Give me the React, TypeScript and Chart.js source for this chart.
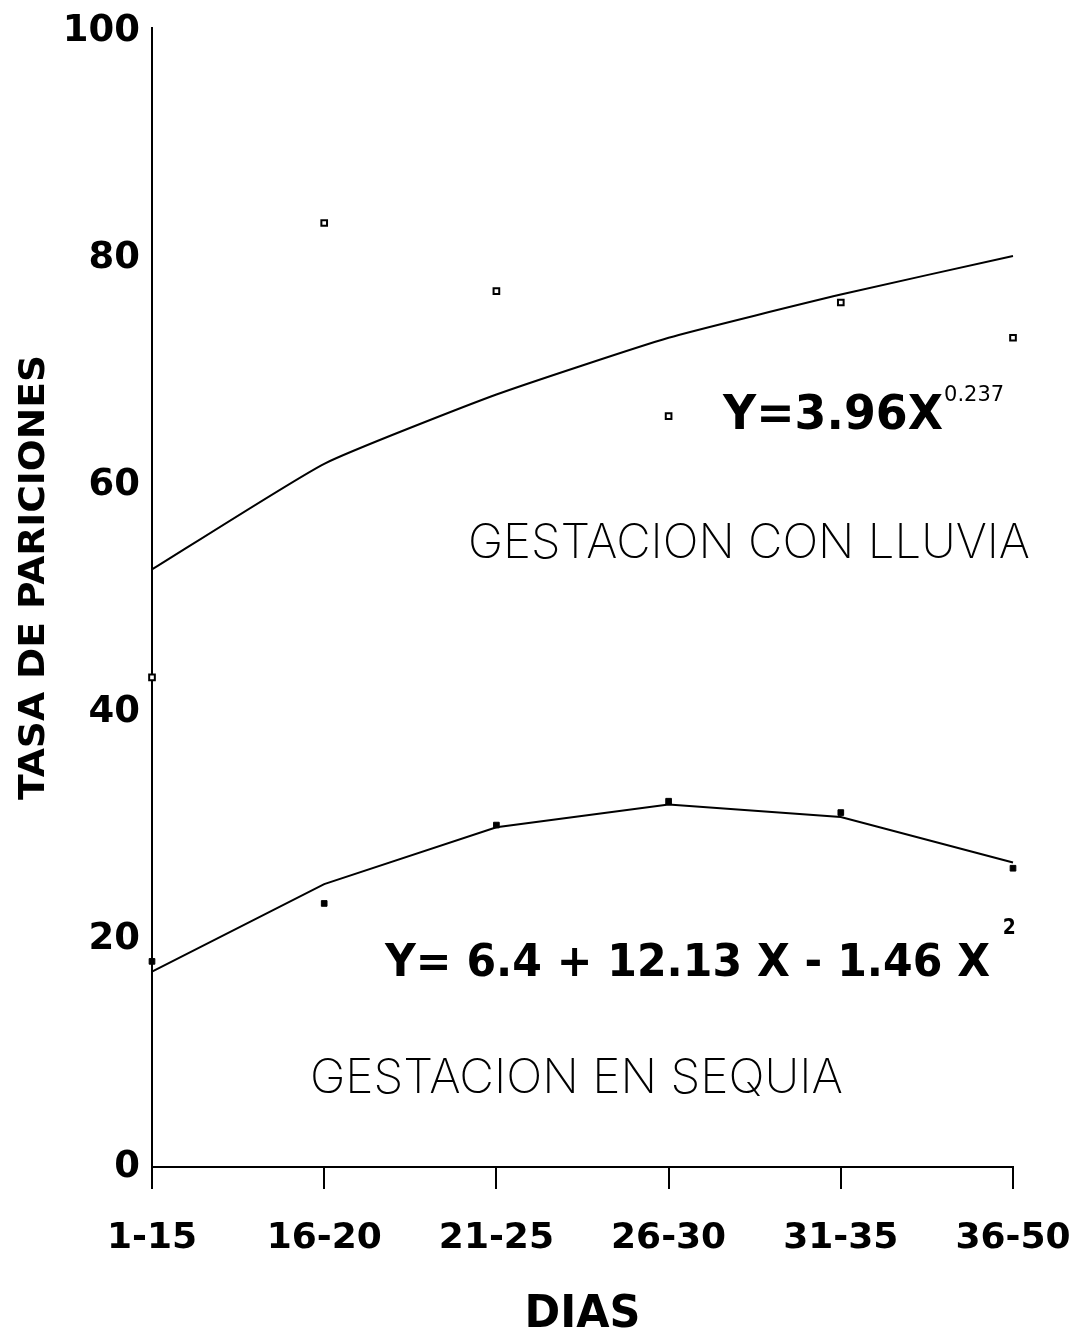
import React, { useEffect, useRef } from "react";
import { Chart, registerables } from "chart.js";

Chart.register(...registerables);

const categories = ["1-15", "16-20", "21-25", "26-30", "31-35", "36-50"];
const lluviaObs = [43.1, 83.1, 77.1, 66.1, 76.1, 73.0];
const lluviaFit = [52.6, 61.9, 68.0, 73.0, 76.8, 80.2];
const sequiaObs = [18.1, 23.2, 30.1, 32.2, 31.2, 26.3];
const sequiaFit = [17.2, 24.9, 29.9, 31.9, 30.8, 26.8];
const yTicks = [0, 20, 40, 60, 80, 100];

const BOLD = '"DejaVu Sans", "Liberation Sans", sans-serif';
const LIGHT = 'Inter, Roboto, "DejaVu Sans", sans-serif';

function drawFit(
  ctx: CanvasRenderingContext2D,
  text: string,
  x: number,
  y: number,
  width: number,
  font: string
) {
  ctx.save();
  ctx.font = font;
  ctx.textAlign = "left";
  ctx.textBaseline = "alphabetic";
  const w = ctx.measureText(text).width;
  const s = width / w;
  ctx.translate(x, y);
  ctx.scale(s, 1);
  ctx.fillStyle = "#000";
  ctx.fillText(text, 0, 0);
  ctx.restore();
}

const textPlugin = {
  id: "texts",
  afterDraw(chart: any) {
    const ctx = chart.ctx as CanvasRenderingContext2D;
    const xs = chart.scales.x;
    const ys = chart.scales.y;
    const px = (i: number) => xs.getPixelForValue(i);
    const py = (v: number) => ys.getPixelForValue(v);

    drawFit(ctx, "Y=3.96X", px(3.316), py(64.97), 220, `bold 48px ${BOLD}`);
    drawFit(ctx, "0.237", px(4.6), py(67.4), 60, `22px ${BOLD}`);
    drawFit(ctx, "GESTACION CON LLUVIA", px(1.835), py(53.6), 562, `200 48px ${LIGHT}`);
    drawFit(ctx, "Y= 6.4 + 12.13 X - 1.46 X", px(1.353), py(16.85), 605, `bold 45px ${BOLD}`);
    drawFit(ctx, "2", px(4.94), py(20.5), 13, `bold 22px ${BOLD}`);
    drawFit(ctx, "GESTACION EN SEQUIA", px(0.917), py(6.5), 533, `200 48px ${LIGHT}`);

    const cx = (chart.chartArea.left + chart.chartArea.right) / 2;
    drawFit(ctx, "DIAS", cx - 58, 1327, 116, `bold 45px ${BOLD}`);

    ctx.save();
    ctx.translate(44, 800);
    ctx.rotate(-Math.PI / 2);
    drawFit(ctx, "TASA DE PARICIONES", 0, 0, 445, `bold 35px ${BOLD}`);
    ctx.restore();

    // axis line extends slightly above the 100 level
    ctx.save();
    ctx.strokeStyle = "#000";
    ctx.lineWidth = 2;
    ctx.beginPath();
    ctx.moveTo(chart.chartArea.left, chart.chartArea.top);
    ctx.lineTo(chart.chartArea.left, chart.chartArea.top - 4);
    ctx.stroke();
    ctx.restore();
  },
};

export default function App() {
  const ref = useRef<HTMLCanvasElement | null>(null);
  useEffect(() => {
    document.body.style.margin = "0";
    const canvas = ref.current!;
    const chart = new Chart(canvas, {
      type: "line",
      data: {
        labels: categories,
        datasets: [
          {
            label: "Lluvia observada",
            data: lluviaObs,
            showLine: false,
            pointStyle: "rect",
            pointRadius: 4,
            pointBackgroundColor: "#fff",
            pointBorderColor: "#000",
            pointBorderWidth: 2,
            clip: false as any,
          },
          {
            label: "Lluvia ajustada",
            data: lluviaFit,
            borderColor: "#000",
            borderWidth: 2,
            pointRadius: 0,
            tension: 0.15,
            fill: false,
            clip: false as any,
          },
          {
            label: "Sequia observada",
            data: sequiaObs,
            showLine: false,
            pointStyle: "rect",
            pointRadius: 4,
            pointBackgroundColor: "#000",
            pointBorderColor: "#000",
            pointBorderWidth: 1,
            clip: false as any,
          },
          {
            label: "Sequia ajustada",
            data: sequiaFit,
            borderColor: "#000",
            borderWidth: 2,
            pointRadius: 0,
            tension: 0,
            fill: false,
            clip: false as any,
          },
        ],
      },
      options: {
        responsive: false,
        animation: false,
        layout: { padding: { left: 0, right: 69, top: 31, bottom: 0 } },
        plugins: {
          legend: { display: false },
          tooltip: { enabled: false },
          title: { display: false },
        },
        scales: {
          x: {
            type: "category",
            offset: false,
            grid: {
              display: true,
              drawOnChartArea: false,
              drawTicks: true,
              tickLength: 22,
              color: "#000",
              lineWidth: 2,
            },
            border: { display: true, color: "#000", width: 2 },
            ticks: {
              color: "#000",
              font: { family: BOLD, size: 36, weight: "bold" },
              padding: 28,
              maxRotation: 0,
              autoSkip: false,
            },
            afterFit: (s: any) => {
              s.height = 1332 - 1167;
              s.paddingLeft = 0;
              s.paddingRight = 0;
            },
          },
          y: {
            min: 0,
            max: 100,
            afterBuildTicks: (s: any) => {
              s.ticks = yTicks.map((v) => ({ value: v }));
            },
            grid: {
              display: true,
              drawOnChartArea: false,
              drawTicks: false,
              tickLength: 0,
              color: "#000",
            },
            border: { display: true, color: "#000", width: 2 },
            ticks: {
              color: "#000",
              font: { family: BOLD, size: 37, weight: "bold" },
              padding: 12,
            },
            afterFit: (s: any) => {
              s.width = 152;
              s.paddingTop = 0;
              s.paddingBottom = 0;
            },
          },
        },
      },
      plugins: [textPlugin],
    });
    return () => chart.destroy();
  }, []);
  return (
    <div style={{ width: 1082, height: 1332, background: "#fff" }}>
      <canvas ref={ref} width={1082} height={1332} />
    </div>
  );
}
